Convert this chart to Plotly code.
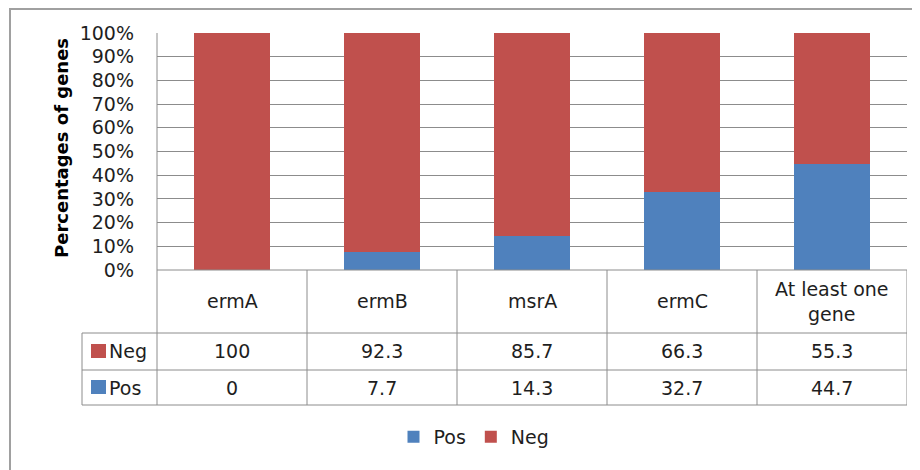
import plotly.graph_objects as go

categories = ["ermA", "ermB", "msrA", "ermC", "At least one gene"]
header_labels = ["ermA", "ermB", "msrA", "ermC", "At least one<br>gene"]
pos_values = [0, 7.7, 14.3, 32.7, 44.7]
neg_values = [100, 92.3, 85.7, 66.3, 55.3]
neg_text = ["100", "92.3", "85.7", "66.3", "55.3"]
pos_text = ["0", "7.7", "14.3", "32.7", "44.7"]
y_ticks = [0, 10, 20, 30, 40, 50, 60, 70, 80, 90, 100]
y_tick_labels = ["0%", "10%", "20%", "30%", "40%", "50%", "60%", "70%", "80%", "90%", "100%"]

BLUE = "#4F81BD"
RED = "#C0504D"
GRID = "#8C8C8C"
FONT = "DejaVu Sans, sans-serif"
FS = 19
TXT = "#1E1E1E"

# page has an 8px body margin; figure spans screen 8..920 x 8..470
OFF = 8
W, H = 920 - OFF, 470 - OFF
SL, SR, ST, SB = 157, 907, 33, 270   # plot area in screen pixels

def px(x):
    return (x - SL) / (SR - SL)

def py(y):
    return (SB - y) / (SB - ST)

fig = go.Figure()
fig.add_trace(go.Bar(x=categories, y=pos_values, name="Pos", marker_color=BLUE,
                     width=0.51, marker_line_width=0))
fig.add_trace(go.Bar(x=categories, y=neg_values, name="Neg", marker_color=RED,
                     width=0.51, marker_line_width=0))

shapes = []
# outer frame
frame = dict(color="#A0A0A0", width=2)
shapes.append(dict(type="line", xref="paper", yref="paper", x0=px(10), x1=px(10), y0=py(9), y1=py(470), line=frame))
shapes.append(dict(type="line", xref="paper", yref="paper", x0=px(9), x1=px(920), y0=py(9), y1=py(9), line=frame))
# table grid
tl = dict(color=GRID, width=1)
shapes.append(dict(type="line", xref="paper", yref="paper", x0=0, x1=0, y0=1, y1=py(405), line=tl))
for i in range(len(categories)):
    shapes.append(dict(type="line", xref="x", yref="paper", x0=i + 0.5, x1=i + 0.5,
                       y0=0, y1=py(405), line=tl))
for yy in [333, 370, 405]:
    shapes.append(dict(type="line", xref="paper", yref="paper", x0=px(82), x1=1, y0=py(yy), y1=py(yy), line=tl))
shapes.append(dict(type="line", xref="paper", yref="paper", x0=0, x1=1, y0=0, y1=0, line=tl))
shapes.append(dict(type="line", xref="paper", yref="paper", x0=px(82), x1=px(82), y0=py(333), y1=py(405), line=tl))
# legend keys in table
shapes.append(dict(type="rect", xref="paper", yref="paper", x0=px(91), x1=px(106), y0=py(358), y1=py(344),
                   fillcolor=RED, line=dict(width=0)))
shapes.append(dict(type="rect", xref="paper", yref="paper", x0=px(91), x1=px(106), y0=py(394), y1=py(380),
                   fillcolor=BLUE, line=dict(width=0)))

annotations = []
tf = dict(family=FONT, size=FS, color=TXT)
for i, cat in enumerate(categories):
    annotations.append(dict(x=cat, y=py(301), xref="x", yref="paper", text=header_labels[i],
                            showarrow=False, font=tf, align="center", xanchor="center", yanchor="middle"))
    annotations.append(dict(x=cat, y=py(351), xref="x", yref="paper", text=neg_text[i],
                            showarrow=False, font=tf, xanchor="center", yanchor="middle"))
    annotations.append(dict(x=cat, y=py(387.5), xref="x", yref="paper", text=pos_text[i],
                            showarrow=False, font=tf, xanchor="center", yanchor="middle"))
annotations.append(dict(x=px(107), y=py(351), xref="paper", yref="paper", text="Neg", xanchor="left",
                        yanchor="middle", showarrow=False, font=tf))
annotations.append(dict(x=px(107), y=py(387.5), xref="paper", yref="paper", text="Pos", xanchor="left",
                        yanchor="middle", showarrow=False, font=tf))
annotations.append(dict(x=px(61), y=py(148), xref="paper", yref="paper", text="<b>Percentages of genes</b>",
                        textangle=-90, showarrow=False, xanchor="center", yanchor="middle",
                        font=dict(family=FONT, size=18, color="#000000")))

fig.update_layout(
    width=W, height=H,
    margin=dict(l=SL - OFF, r=W - (SR - OFF), t=ST - OFF, b=H - (SB - OFF), pad=0, autoexpand=False),
    barmode="stack",
    barnorm="percent",
    paper_bgcolor="white", plot_bgcolor="white",
    font=dict(family=FONT, size=FS, color=TXT),
    showlegend=True,
    legend=dict(orientation="h", x=px(474), xanchor="center", y=py(437), yanchor="middle",
                font=dict(family=FONT, size=FS, color=TXT), traceorder="normal",
                itemwidth=30, tracegroupgap=0),
    shapes=shapes,
    annotations=annotations,
)
fig.update_xaxes(showticklabels=False, showgrid=False, zeroline=False, showline=False,
                 range=[-0.5, len(categories) - 0.5])
fig.update_yaxes(range=[0, 100], tickvals=y_ticks, ticktext=y_tick_labels, showgrid=True,
                 gridcolor=GRID, gridwidth=1, zeroline=False, showline=False, automargin=False,
                 ticklabelstandoff=22, tickfont=dict(family=FONT, size=FS, color=TXT))

fig.write_html("out.html")
